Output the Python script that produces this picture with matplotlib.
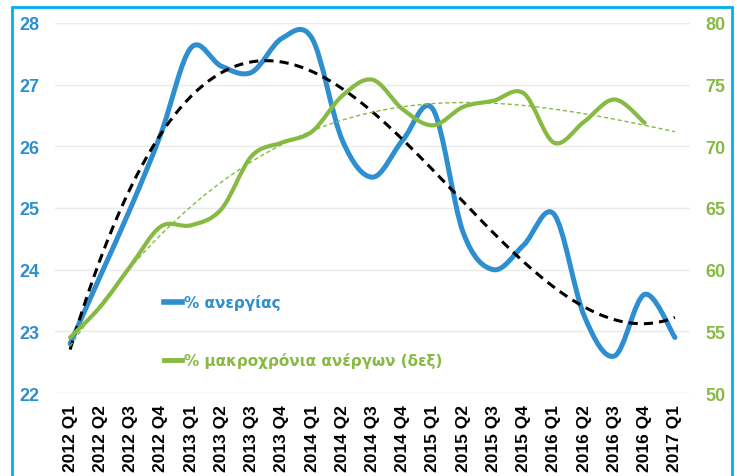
import matplotlib
matplotlib.use("Agg")
import matplotlib.pyplot as plt
from matplotlib.path import Path
from matplotlib.patches import PathPatch, Rectangle
from matplotlib.lines import Line2D
import numpy as np

plt.rcParams['font.family'] = ['Liberation Sans', 'DejaVu Sans']

quarters = ['2012 Q1', '2012 Q2', '2012 Q3', '2012 Q4',
            '2013 Q1', '2013 Q2', '2013 Q3', '2013 Q4',
            '2014 Q1', '2014 Q2', '2014 Q3', '2014 Q4',
            '2015 Q1', '2015 Q2', '2015 Q3', '2015 Q4',
            '2016 Q1', '2016 Q2', '2016 Q3', '2016 Q4',
            '2017 Q1']
unemployment = [22.8, 23.9, 25.0, 26.2, 27.6, 27.3, 27.2, 27.75, 27.75, 26.1,
                25.5, 26.1, 26.6, 24.6, 24.0, 24.4, 24.9, 23.25, 22.6, 23.6,
                22.9]
long_term = [54.5, 57.0, 60.3, 63.5, 63.6, 64.9, 69.2, 70.3, 71.2, 74.1,
             75.4, 73.0, 71.7, 73.2, 73.7, 74.3, 70.3, 72.0, 73.8, 71.9]

blue = '#2E8FD0'
green = '#86BA43'


def smooth_path(x, y):
    # catmull-rom style smoothing like excel's "smoothed line"
    x = np.asarray(x, float)
    y = np.asarray(y, float)
    verts = [(x[0], y[0])]
    codes = [Path.MOVETO]
    n = len(x)
    for i in range(n - 1):
        i0 = max(i - 1, 0)
        i3 = min(i + 2, n - 1)
        c1 = (x[i] + (x[i + 1] - x[i0]) / 6, y[i] + (y[i + 1] - y[i0]) / 6)
        c2 = (x[i + 1] - (x[i3] - x[i]) / 6, y[i + 1] - (y[i3] - y[i]) / 6)
        verts += [c1, c2, (x[i + 1], y[i + 1])]
        codes += [Path.CURVE4] * 3
    return Path(verts, codes)


fig = plt.figure(figsize=(7.37, 4.77), dpi=100)
ax = fig.add_axes([0.0746, 0.174, 0.8617, 0.7757])
ax2 = ax.twinx()

xi = np.arange(len(quarters))
xg = np.arange(len(long_term))

ax.add_patch(PathPatch(smooth_path(xi, unemployment), fill=False,
                       edgecolor=blue, lw=3.6, capstyle='round', zorder=3))
ax2.add_patch(PathPatch(smooth_path(xg, long_term), fill=False,
                        edgecolor=green, lw=3, capstyle='round', zorder=3))

# polynomial trend lines (3rd order, like excel)
fine = np.linspace(0, len(quarters) - 1, 200)
pb = np.polyfit(xi, unemployment, 3)
ax.plot(fine, np.polyval(pb, fine), color='black', lw=2.2,
        linestyle=(0, (3, 2)), zorder=4)
pg = np.polyfit(xg, long_term, 3)
ax2.plot(fine, np.polyval(pg, fine), color=green, lw=1,
         linestyle=(0, (3, 2)), zorder=2)

ax.set_xlim(-0.5, len(quarters) - 0.5)
ax.set_ylim(22, 28)
ax2.set_ylim(50, 80)
ax.set_yticks(range(22, 29))
ax2.set_yticks(range(50, 81, 5))
ax.set_xticks(xi)
ax.set_xticklabels(quarters, rotation=90, fontsize=12.5, fontweight='bold')
ax.grid(axis='y', color='#EAEAEA', lw=1)
ax.set_axisbelow(True)

for a in (ax, ax2):
    for s in a.spines.values():
        s.set_visible(False)
    a.tick_params(length=0)
ax.tick_params(axis='y', labelcolor=blue, labelsize=13, pad=11)
ax2.tick_params(axis='y', labelcolor=green, labelsize=13, pad=11)
for lab in ax.get_yticklabels() + ax2.get_yticklabels():
    lab.set_fontweight('bold')
ax.tick_params(axis='x', pad=8)

handles = [Line2D([], [], color=blue, lw=4),
           Line2D([], [], color=green, lw=3.5)]
leg = ax2.legend(handles, ['% ανεργίας', '% μακροχρόνια ανέργων (δεξ)'],
                 loc='upper left', bbox_to_anchor=(0.15, 0.305),
                 frameon=False, labelcolor='linecolor', handlelength=1.2,
                 handletextpad=0.1, labelspacing=2.75,
                 prop={'family': 'DejaVu Sans', 'weight': 'bold', 'size': 11})

fig.patches.append(Rectangle((12 / 737, -0.05), 720 / 737, 1.05 - 8 / 477,
                             transform=fig.transFigure, fill=False,
                             edgecolor='#00B0F0', lw=2))

plt.savefig('out.png', dpi=100)
